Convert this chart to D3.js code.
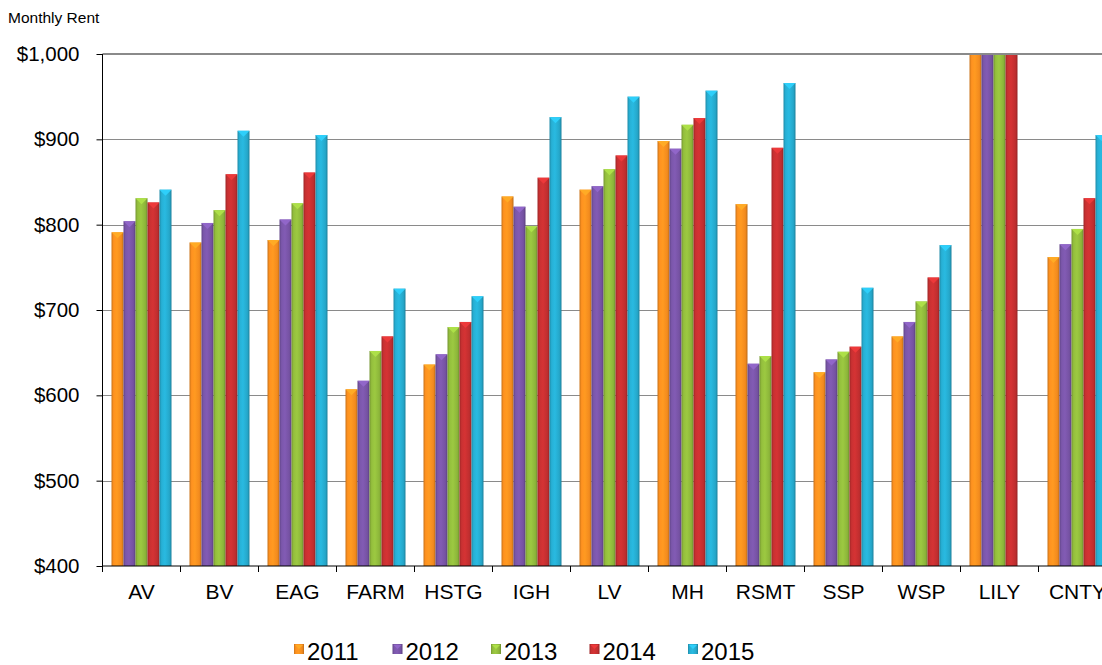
<!DOCTYPE html>
<html>
<head>
<meta charset="utf-8">
<script src="https://cdn.jsdelivr.net/npm/d3@7"></script>
<style>
  html, body { margin: 0; padding: 0; background: #fff; }
  svg { display: block; font-family: "Liberation Sans", Arial, sans-serif; }
</style>
</head>
<body>
<svg id="chart" width="1102" height="665"></svg>
<script>
// Property codes along the x axis
const categories = ["AV", "BV", "EAG", "FARM", "HSTG", "IGH", "LV", "MH", "RSMT", "SSP", "WSP", "LILY", "CNTY"];
const years = ["2011", "2012", "2013", "2014", "2015"];

// Average monthly rent per property, one array per year
const rent2011 = [791, 779, 782, 607, 636, 833, 841, 898, 824, 627, 669, 1050, 762];
const rent2012 = [804, 802, 806, 617, 648, 821, 845, 889, 637, 642, 686, 1050, 777];
const rent2013 = [831, 817, 825, 652, 680, 798, 865, 917, 646, 651, 710, 1050, 795];
const rent2014 = [826, 859, 861, 669, 686, 855, 881, 925, 890, 657, 738, 1050, 831];
const rent2015 = [841, 910, 905, 725, 716, 926, 950, 957, 966, 726, 776, 400, 905];
const seriesValues = [rent2011, rent2012, rent2013, rent2014, rent2015];

const yTicks = [400, 500, 600, 700, 800, 900, 1000];
const colors = ["#F28A1E", "#7552A2", "#8CB53A", "#BF2E2F", "#25A7CA"];

const svg = d3.select("#chart");
const plotLeft = 102.5, plotTop = 54, plotBottom = 566;
const band = 78;

const x = d3.scaleBand().domain(categories).range([plotLeft, plotLeft + band * categories.length]).padding(0);
const xInner = d3.scaleBand().domain(years).range([9, 69]).padding(0);
const y = d3.scaleLinear().domain([400, 1000]).range([plotBottom, plotTop]);

const defs = svg.append("defs");
defs.append("clipPath").attr("id", "plotClip")
  .append("rect").attr("x", plotLeft).attr("y", plotTop).attr("width", 1102 - plotLeft).attr("height", plotBottom - plotTop);

colors.forEach((c, i) => {
  const base = d3.color(c);
  const g = defs.append("linearGradient").attr("id", "grad" + i)
    .attr("x1", 0).attr("x2", 1).attr("y1", 0).attr("y2", 0);
  g.append("stop").attr("offset", 0).attr("stop-color", base.darker(0.5));
  g.append("stop").attr("offset", 0.18).attr("stop-color", base.brighter(0.15));
  g.append("stop").attr("offset", 0.45).attr("stop-color", base.brighter(0.3));
  g.append("stop").attr("offset", 0.82).attr("stop-color", base);
  g.append("stop").attr("offset", 1).attr("stop-color", base.darker(0.7));
});

// Gridlines
svg.append("g").selectAll("line").data(yTicks.filter(t => t > 400 && t < 1000)).join("line")
  .attr("x1", plotLeft).attr("x2", 1102)
  .attr("y1", d => Math.round(y(d)) + 0.5).attr("y2", d => Math.round(y(d)) + 0.5)
  .attr("stroke", "#8a8a8a").attr("stroke-width", 1);

// Bars
const plot = svg.append("g").attr("clip-path", "url(#plotClip)");
years.forEach((yr, si) => {
  const vals = seriesValues[si];
  const g = plot.append("g");
  const data = categories.map((c, ci) => ({ c, v: vals[ci] }));
  const bx = d => x(d.c) + xInner(yr);
  const w = xInner.bandwidth();
  g.selectAll("rect").data(data).join("rect")
    .attr("x", bx).attr("width", w)
    .attr("y", d => y(d.v)).attr("height", d => Math.max(0, plotBottom - y(d.v)))
    .attr("fill", "url(#grad" + si + ")");
  // bevelled top cap
  g.selectAll("path").data(data.filter(d => d.v > 400 && d.v <= 1000)).join("path")
    .attr("d", d => {
      const x0 = bx(d), yt = y(d.v);
      return `M${x0},${yt}L${x0 + w},${yt}L${x0 + w / 2},${yt + 6}Z`;
    })
    .attr("fill", d3.color(colors[si]).brighter(0.6));
});

// Top border line of plot area
svg.append("line").attr("x1", plotLeft).attr("x2", 1102).attr("y1", plotTop).attr("y2", plotTop)
  .attr("stroke", "#8a8a8a").attr("stroke-width", 2);

// Y axis
const yAxis = svg.append("g").attr("transform", `translate(${plotLeft},0)`)
  .call(d3.axisLeft(y).tickValues(yTicks).tickSize(6).tickPadding(17)
    .tickFormat(d => "$" + d3.format(",")(d)));
yAxis.select(".domain").attr("stroke", "#000").attr("d", `M0,${plotTop}V${plotBottom}`);
yAxis.selectAll(".tick line").attr("stroke", "#000");
yAxis.selectAll(".tick text").attr("font-size", 20.5).attr("fill", "#000")
  .attr("font-family", "Liberation Sans, Arial, sans-serif");

// X axis
const xAxis = svg.append("g").attr("transform", `translate(0,${plotBottom})`)
  .call(d3.axisBottom(x).tickSize(0).tickPadding(18));
xAxis.select(".domain").attr("stroke", "#000").attr("d", `M${plotLeft},0H1102`);
xAxis.selectAll(".tick text").attr("font-size", 21).attr("fill", "#000")
  .attr("font-family", "Liberation Sans, Arial, sans-serif");
svg.append("g").selectAll("line").data(d3.range(categories.length + 1)).join("line")
  .attr("x1", i => plotLeft + i * band).attr("x2", i => plotLeft + i * band)
  .attr("y1", plotBottom).attr("y2", plotBottom + 6).attr("stroke", "#000");

// Axis title
svg.append("text").attr("x", 8).attr("y", 23).attr("font-size", 15.5).attr("fill", "#000")
  .text("Monthly Rent");

// Legend
const legend = svg.append("g");
years.forEach((yr, i) => {
  const lx = 294 + i * 98.5;
  const base = d3.color(colors[i]);
  legend.append("rect").attr("x", lx).attr("y", 644).attr("width", 10).attr("height", 10)
    .attr("fill", "url(#grad" + i + ")");
  legend.append("path").attr("d", `M${lx + 1},${645}L${lx + 9},${645}L${lx + 5},${649}Z`)
    .attr("fill", base.brighter(0.6));
  legend.append("text").attr("x", lx + 13).attr("y", 660).attr("font-size", 24).attr("fill", "#000")
    .text(yr);
});
</script>
</body>
</html>
